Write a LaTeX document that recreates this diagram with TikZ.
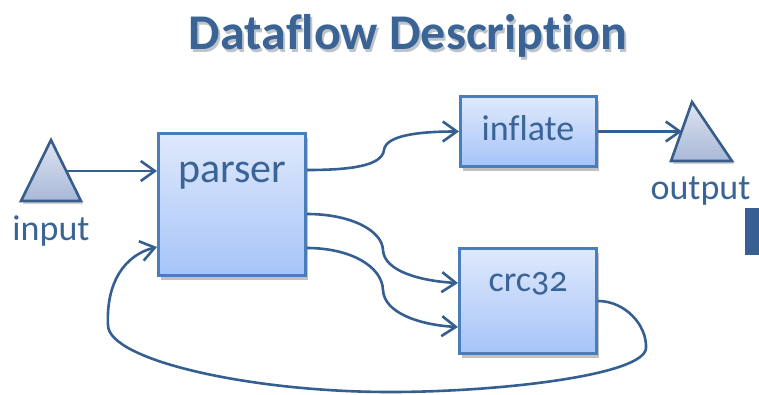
\documentclass[tikz,border=0pt]{standalone}
\usepackage{fontspec}
\setmainfont{Carlito}[Numbers=OldStyle, Ligatures=NoCommon]
\usetikzlibrary{arrows.meta,shadows,calc}

\definecolor{ink}{RGB}{58,99,150}
\definecolor{wire}{RGB}{54,95,145}
\definecolor{boxline}{RGB}{74,126,187}
\definecolor{boxtop}{RGB}{223,233,252}
\definecolor{boxbot}{RGB}{166,196,248}
\definecolor{tritop}{RGB}{222,228,240}
\definecolor{tribot}{RGB}{168,184,215}
\definecolor{triline}{RGB}{56,93,138}
\definecolor{barblue}{RGB}{55,95,146}
\definecolor{titleshade}{RGB}{190,196,204}

\newcommand{\shadowedtitle}[1]{%
  \rlap{\hspace{2pt}\raisebox{-3pt}{\textcolor{titleshade}{#1}}}#1}

\tikzset{
  blockbox/.style={draw=boxline, line width=3pt, top color=boxtop, bottom color=boxbot,
    inner sep=0pt,
    drop shadow={shadow xshift=2pt, shadow yshift=-4pt, opacity=.35, fill=black!70}},
  blocklabel/.style={text=ink, anchor=base, inner sep=0pt, font=\fontsize{36}{40}\selectfont},
  flow/.style={draw=wire, line width=2.6pt, line join=round,
    -{Straight Barb[length=14pt,width=20pt,line width=2.6pt]}},
  portmark/.style={draw=triline, line width=2.6pt, line join=miter, top color=tritop, bottom color=tribot},
  portshadow/.style={fill=black, opacity=.18},
}

\begin{document}
\begin{tikzpicture}[x=1pt,y=-1pt]
\useasboundingbox (0,0) rectangle (759,394);

% title with soft shadow
\node[text=ink, anchor=base, inner sep=0pt, font=\bfseries\fontsize{50}{56}\selectfont] (title) at (408,49) {\shadowedtitle{Dataflow Description}};

% processing blocks
\node[blockbox, minimum width=147pt, minimum height=142pt] (parser) at (232,204.5) {};
\node[blockbox, minimum width=136pt, minimum height=70pt] (inflate) at (528.5,131.5) {};
\node[blockbox, minimum width=137pt, minimum height=105pt] (crc) at (528,301) {};

\node[blocklabel, font=\fontsize{42}{46}\selectfont] (parsertxt) at (232.5,182) {parser};
\node[blocklabel] (inflatetxt) at (528,140) {inflate};
\node[blocklabel] (crctxt) at (528,291) {crc32};

% input / output ports
\path[portshadow] (53,143) -- (83,204) -- (23,204) -- cycle;
\path[portmark] (51,140) -- (81,201) -- (21,201) -- cycle;
\path[portshadow] (694,105) -- (734,164) -- (673,164) -- cycle;
\path[portmark] (692,102) -- (732,161) -- (671,161) -- cycle;
\coordinate (inport) at (66,171);
\coordinate (outport) at (682,131.5);

\node[blocklabel] (inputtxt) at (51,240) {input};
\node[blocklabel] (outputtxt) at (700.5,199) {output};

% edge of the neighbouring panel
\fill[barblue] (745,208) rectangle (759,255);

% connectors
\coordinate (pA) at ([yshift=34.5pt]parser.east);
\coordinate (pB) at ([yshift=-9.5pt]parser.east);
\coordinate (pC) at ([yshift=-43.5pt]parser.east);
\coordinate (cA) at ([yshift=18pt]crc.west);
\coordinate (cB) at ([yshift=-26pt]crc.west);
\coordinate (pIn) at ([yshift=33.5pt]parser.west);
\coordinate (pLoop) at ([yshift=-42.5pt]parser.west);

\draw[flow] (inport) -- (pIn);
\draw[flow] (inflate.east) -- (outport);

\draw[flow] (pA) .. controls (350,170) and (382,166) .. (384,150)
                 .. controls (386,135) and (420,131.5) .. (inflate.west);
\draw[flow] (pB) .. controls (350,214) and (382,230) .. (383,250)
                 .. controls (384,271) and (420,281) .. (cA);
\draw[flow] (pC) .. controls (350,248) and (382,266) .. (383,290)
                 .. controls (384,313) and (420,325) .. (cB);

% feedback from crc32 back into the parser
\draw[flow] (crc.east) .. controls (625,301) and (647,325) .. (646,348)
                       .. controls (645,375) and (500,392) .. (390,392)
                       .. controls (250,392) and (108,360) .. (108,325)
                       .. controls (106,282) and (125,255) .. (pLoop);
\end{tikzpicture}
\end{document}
